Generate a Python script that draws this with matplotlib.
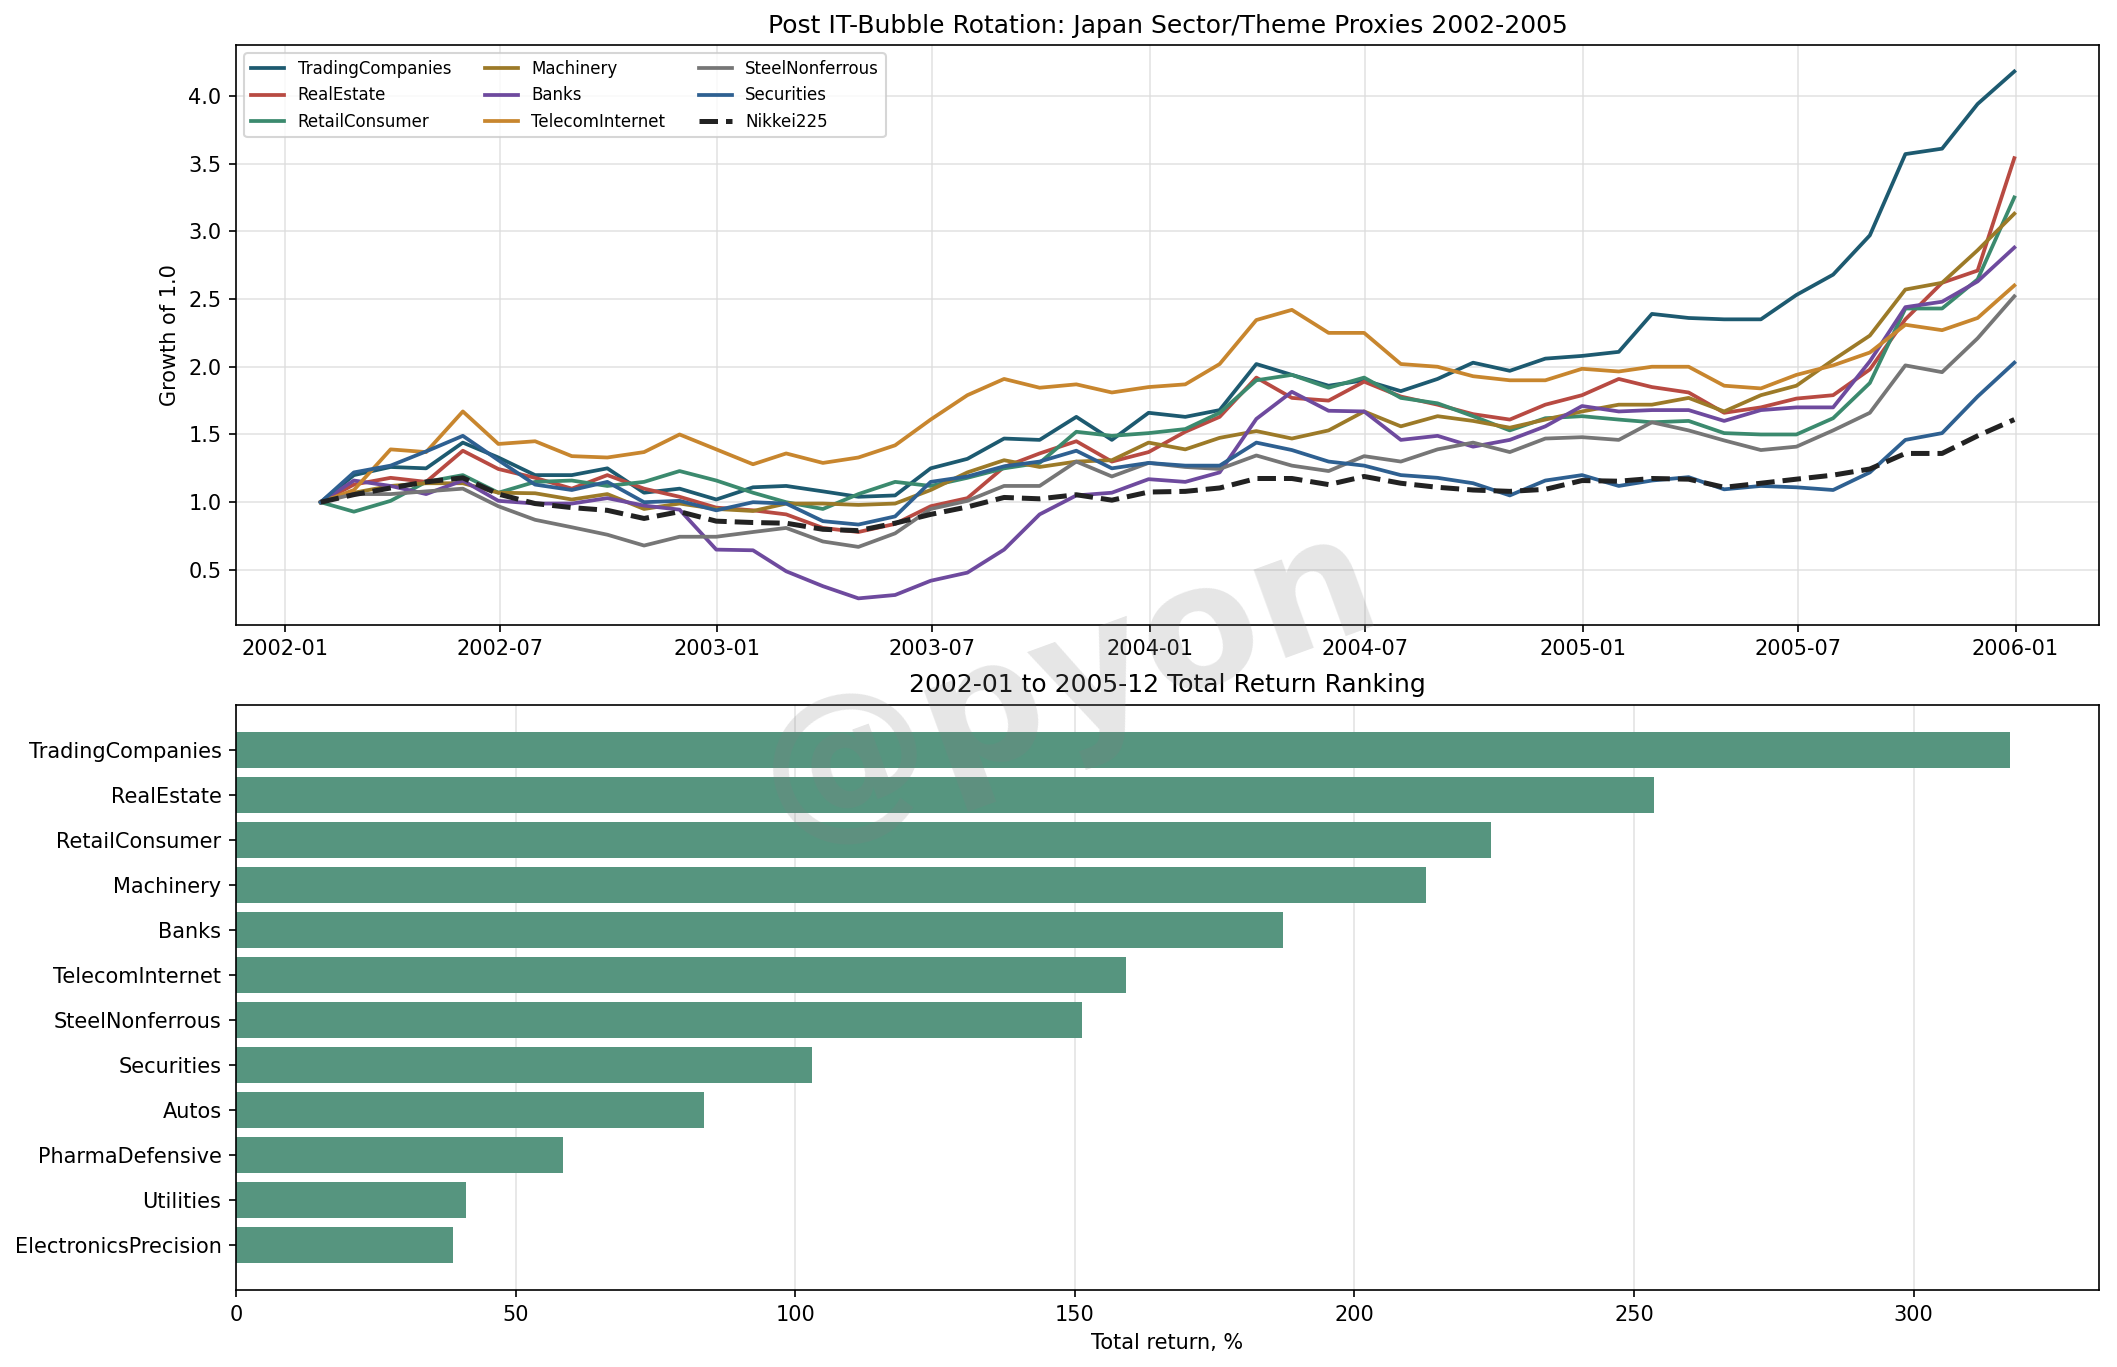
import matplotlib
matplotlib.use("Agg")
import matplotlib.pyplot as plt
import matplotlib.dates as mdates
import pandas as pd

dates = pd.date_range("2002-01-31", periods=48, freq="ME")

trading = [1.00, 1.20, 1.26, 1.25, 1.44, 1.33, 1.20, 1.20, 1.25, 1.07, 1.10, 1.02,
           1.11, 1.12, 1.08, 1.04, 1.05, 1.25, 1.32, 1.47, 1.46, 1.63, 1.46, 1.66,
           1.63, 1.68, 2.02, 1.94, 1.86, 1.90, 1.82, 1.91, 2.03, 1.97, 2.06, 2.08,
           2.11, 2.39, 2.36, 2.35, 2.35, 2.53, 2.68, 2.97, 3.57, 3.61, 3.94, 4.18]
real_estate = [1.00, 1.13, 1.18, 1.15, 1.38, 1.245, 1.18, 1.10, 1.20, 1.10, 1.04, 0.96,
               0.94, 0.91, 0.81, 0.78, 0.84, 0.97, 1.03, 1.26, 1.36, 1.45, 1.30, 1.37,
               1.52, 1.63, 1.92, 1.77, 1.75, 1.89, 1.78, 1.72, 1.65, 1.61, 1.72, 1.79,
               1.91, 1.85, 1.81, 1.66, 1.70, 1.765, 1.79, 1.98, 2.35, 2.62, 2.71, 3.54]
retail = [1.00, 0.93, 1.01, 1.15, 1.20, 1.07, 1.15, 1.16, 1.12, 1.15, 1.23, 1.16,
          1.07, 1.00, 0.95, 1.06, 1.15, 1.12, 1.18, 1.25, 1.29, 1.52, 1.49, 1.51,
          1.54, 1.66, 1.90, 1.94, 1.845, 1.92, 1.77, 1.73, 1.635, 1.53, 1.62, 1.635,
          1.61, 1.59, 1.60, 1.51, 1.50, 1.50, 1.62, 1.88, 2.43, 2.43, 2.645, 3.25]
machinery = [1.00, 1.07, 1.12, 1.14, 1.14, 1.07, 1.066, 1.02, 1.06, 0.95, 0.99, 0.95,
             0.935, 0.99, 0.99, 0.98, 0.99, 1.09, 1.22, 1.31, 1.26, 1.30, 1.31, 1.44,
             1.39, 1.475, 1.525, 1.47, 1.53, 1.67, 1.56, 1.635, 1.60, 1.55, 1.61, 1.67,
             1.72, 1.72, 1.77, 1.67, 1.79, 1.86, 2.05, 2.23, 2.57, 2.62, 2.86, 3.13]
banks = [1.00, 1.16, 1.12, 1.06, 1.16, 1.01, 0.99, 0.99, 1.03, 0.975, 0.945, 0.65,
         0.645, 0.49, 0.38, 0.29, 0.315, 0.42, 0.48, 0.65, 0.91, 1.05, 1.07, 1.17,
         1.15, 1.22, 1.615, 1.815, 1.675, 1.67, 1.46, 1.49, 1.41, 1.46, 1.56, 1.71,
         1.67, 1.68, 1.68, 1.60, 1.68, 1.70, 1.70, 2.04, 2.44, 2.48, 2.63, 2.88]
telecom = [1.00, 1.09, 1.39, 1.37, 1.67, 1.43, 1.45, 1.34, 1.33, 1.37, 1.50, 1.39,
           1.28, 1.36, 1.29, 1.33, 1.42, 1.61, 1.79, 1.91, 1.845, 1.87, 1.81, 1.85,
           1.87, 2.02, 2.345, 2.42, 2.25, 2.25, 2.02, 2.00, 1.93, 1.90, 1.90, 1.985,
           1.965, 2.00, 2.00, 1.86, 1.84, 1.94, 2.01, 2.105, 2.31, 2.27, 2.36, 2.60]
steel = [1.00, 1.06, 1.06, 1.08, 1.10, 0.97, 0.87, 0.815, 0.76, 0.68, 0.745, 0.745,
         0.78, 0.81, 0.71, 0.67, 0.77, 0.95, 1.01, 1.12, 1.12, 1.30, 1.19, 1.29,
         1.26, 1.245, 1.345, 1.27, 1.23, 1.34, 1.30, 1.39, 1.44, 1.37, 1.47, 1.48,
         1.46, 1.59, 1.53, 1.456, 1.385, 1.41, 1.53, 1.66, 2.01, 1.96, 2.21, 2.52]
securities = [1.00, 1.22, 1.27, 1.375, 1.49, 1.31, 1.13, 1.09, 1.15, 1.00, 1.01, 0.94,
              1.00, 0.99, 0.86, 0.835, 0.895, 1.15, 1.19, 1.265, 1.30, 1.38, 1.25, 1.29,
              1.27, 1.27, 1.44, 1.385, 1.30, 1.27, 1.20, 1.18, 1.14, 1.05, 1.16, 1.20,
              1.12, 1.16, 1.185, 1.095, 1.12, 1.11, 1.09, 1.22, 1.46, 1.51, 1.78, 2.03]
nikkei = [1.00, 1.056, 1.105, 1.15, 1.18, 1.06, 0.99, 0.96, 0.94, 0.88, 0.93, 0.86,
          0.85, 0.845, 0.80, 0.79, 0.845, 0.91, 0.965, 1.035, 1.025, 1.055, 1.015, 1.075,
          1.08, 1.105, 1.175, 1.175, 1.13, 1.19, 1.14, 1.11, 1.09, 1.08, 1.095, 1.16,
          1.155, 1.175, 1.17, 1.11, 1.14, 1.17, 1.20, 1.245, 1.36, 1.36, 1.49, 1.61]

series_names = ["TradingCompanies", "RealEstate", "RetailConsumer", "Machinery", "Banks",
                "TelecomInternet", "SteelNonferrous", "Securities"]
series_values = [trading, real_estate, retail, machinery, banks, telecom, steel, securities]
series_colors = ["#1d5a70", "#b84a42", "#3b8a6e", "#9c7a28", "#6e4a9e",
                 "#c8862e", "#767676", "#2e6091"]

rank_names = ["TradingCompanies", "RealEstate", "RetailConsumer", "Machinery", "Banks",
              "TelecomInternet", "SteelNonferrous", "Securities", "Autos",
              "PharmaDefensive", "Utilities", "ElectronicsPrecision"]
rank_values = [317.3, 253.5, 224.5, 212.8, 187.2, 159.2, 151.3, 103.0, 83.7, 58.4, 41.1, 38.8]

fig = plt.figure(figsize=(2117 / 150, 1367 / 150), dpi=150)
ax1 = fig.add_axes([0.1115, 0.543, 0.88, 0.424])
ax2 = fig.add_axes([0.1115, 0.0563, 0.88, 0.428])

for name, vals, col in zip(series_names, series_values, series_colors):
    ax1.plot(dates, vals, color=col, lw=1.8, label=name)
ax1.plot(dates, nikkei, color="#222222", lw=2.4, ls="--", label="Nikkei225")
ax1.set_title("Post IT-Bubble Rotation: Japan Sector/Theme Proxies 2002-2005")
ax1.set_ylabel("Growth of 1.0")
ax1.xaxis.set_major_locator(mdates.MonthLocator(bymonth=[1, 7]))
ax1.xaxis.set_major_formatter(mdates.DateFormatter("%Y-%m"))
ax1.grid(True, color="#dddddd", lw=0.8, alpha=0.8)
ax1.legend(loc="upper left", ncol=3, fontsize=8)

ypos = list(range(len(rank_names)))
ax2.barh(ypos, rank_values, color="#56957f", height=0.8)
ax2.set_yticks(ypos)
ax2.set_yticklabels(rank_names)
ax2.invert_yaxis()
ax2.set_title("2002-01 to 2005-12 Total Return Ranking")
ax2.set_xlabel("Total return, %")
ax2.grid(True, axis="x", color="#dddddd", lw=0.8, alpha=0.8)
ax2.set_axisbelow(True)

fig.text(0.505, 0.5, "@pyon", fontsize=82, fontweight="bold", color="gray",
         alpha=0.2, rotation=20, ha="center", va="center")

fig.savefig("out.png", dpi=150)
